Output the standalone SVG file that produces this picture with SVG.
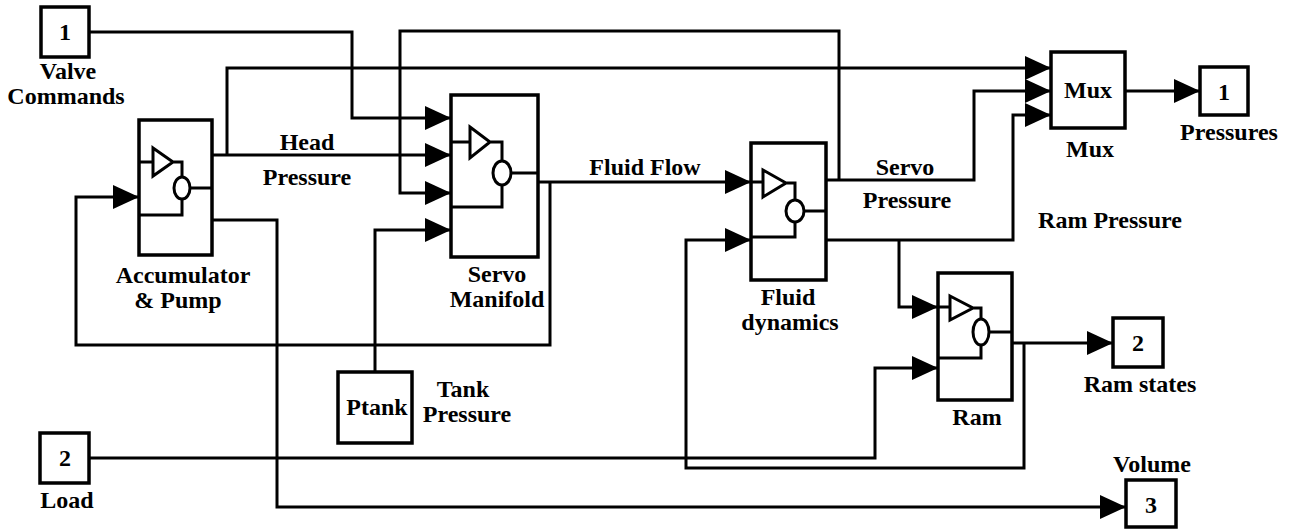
<svg xmlns="http://www.w3.org/2000/svg" width="1289" height="529" viewBox="0 0 1289 529">
<defs>
<marker id="arr" viewBox="0 0 26 24" refX="26" refY="12" markerWidth="26" markerHeight="24" markerUnits="userSpaceOnUse" orient="auto">
<path d="M0,0 L26,12 L0,24 z" fill="#000"/>
</marker>
<style>
.blk{fill:#fff;stroke:#000;stroke-width:3.5}
.ic{fill:none;stroke:#000;stroke-width:3}
.w{fill:none;stroke:#000;stroke-width:3;stroke-linejoin:miter}
.a{marker-end:url(#arr)}
text{font-family:'Liberation Serif','Times New Roman',serif;font-weight:bold;font-size:24px;fill:#000;text-anchor:middle}
</style>
</defs>
<rect width="1289" height="529" fill="#fff"/>
<g id="connectors">
<path class="w a" d="M89,32 H352 V118 H451"/>
<path class="w a" d="M212,155 H451"/>
<path class="w a" d="M227,155 V68 H1051"/>
<path class="w a" d="M212,220 H277 V507 H1126"/>
<path class="w a" d="M538,182 H751"/>
<path class="w a" d="M550,182 V345 H76 V197 H139"/>
<path class="w a" d="M375,372 V230 H451"/>
<path class="w a" d="M826,180 H974 V91 H1051"/>
<path class="w a" d="M839,180 V31 H400 V193 H451"/>
<path class="w a" d="M826,240 H1013 V115 H1051"/>
<path class="w a" d="M899,240 V307 H938"/>
<path class="w a" d="M1012,343 H1113"/>
<path class="w a" d="M1024,343 V468 H686 V240 H751"/>
<path class="w a" d="M89,458 H875 V368 H938"/>
<path class="w a" d="M1125,91 H1200"/>
<text x="307" y="150">Head</text>
<text x="307" y="185">Pressure</text>
<text x="645" y="175">Fluid Flow</text>
<text x="905" y="175">Servo</text>
<text x="907" y="208">Pressure</text>
<text x="1110" y="228">Ram Pressure</text>
</g>
<g id="in1">
<rect class="blk" x="41" y="7" width="48" height="50"/>
<text x="65" y="40">1</text>
<text x="68" y="79">Valve</text>
<text x="66" y="104">Commands</text>
</g>
<g id="accumulator">
<rect class="blk" x="139" y="120" width="73" height="135"/>
<path class="ic" d="M139,162 H153 M153,148 L173,162 L153,176 Z M173,162 H182 V177 M190,188 H212 M182,199 V215 H139"/>
<ellipse class="ic" cx="182" cy="188" rx="8" ry="11"/>
<text x="183" y="283">Accumulator</text>
<text x="178" y="308">&amp; Pump</text>
</g>
<g id="servo">
<rect class="blk" x="451" y="95" width="87" height="162"/>
<path class="ic" d="M451,142 H470 M470,127 L490,142 L470,158 Z M490,142 H502 V161 M511,173 H538 M502,185 V207 H451"/>
<ellipse class="ic" cx="502" cy="173" rx="9" ry="12"/>
<text x="497" y="282">Servo</text>
<text x="497" y="307">Manifold</text>
</g>
<g id="fluid">
<rect class="blk" x="751" y="143" width="75" height="137"/>
<path class="ic" d="M751,182 H763 M763,170 L786,183 L763,197 Z M786,183 H795 V200 M804,211 H826 M795,222 V237 H751"/>
<ellipse class="ic" cx="795" cy="211" rx="9" ry="11"/>
<text x="788" y="305">Fluid</text>
<text x="790" y="330">dynamics</text>
</g>
<g id="ram">
<rect class="blk" x="938" y="273" width="74" height="127"/>
<path class="ic" d="M938,307 H950 M950,296 L973,308 L950,320 Z M973,308 H981 V319 M989,332 H1012 M981,345 V358 H938"/>
<ellipse class="ic" cx="981" cy="332" rx="8" ry="13"/>
<text x="977" y="425">Ram</text>
</g>
<g id="mux">
<rect class="blk" x="1051" y="52" width="74" height="76"/>
<text x="1088" y="98">Mux</text>
<text x="1090" y="157">Mux</text>
</g>
<g id="out1">
<rect class="blk" x="1200" y="67" width="48" height="48"/>
<text x="1224" y="100">1</text>
<text x="1229" y="140">Pressures</text>
</g>
<g id="ptank">
<rect class="blk" x="338" y="372" width="74" height="71"/>
<text x="377" y="415">Ptank</text>
<text x="463" y="397">Tank</text>
<text x="467" y="422">Pressure</text>
</g>
<g id="in2">
<rect class="blk" x="40" y="433" width="49" height="50"/>
<text x="65" y="466">2</text>
<text x="67" y="508">Load</text>
</g>
<g id="out2">
<rect class="blk" x="1113" y="318" width="50" height="49"/>
<text x="1138" y="351">2</text>
<text x="1140" y="392">Ram states</text>
</g>
<g id="out3">
<rect class="blk" x="1126" y="480" width="50" height="47"/>
<text x="1151" y="513">3</text>
<text x="1152" y="472">Volume</text>
</g>
</svg>
